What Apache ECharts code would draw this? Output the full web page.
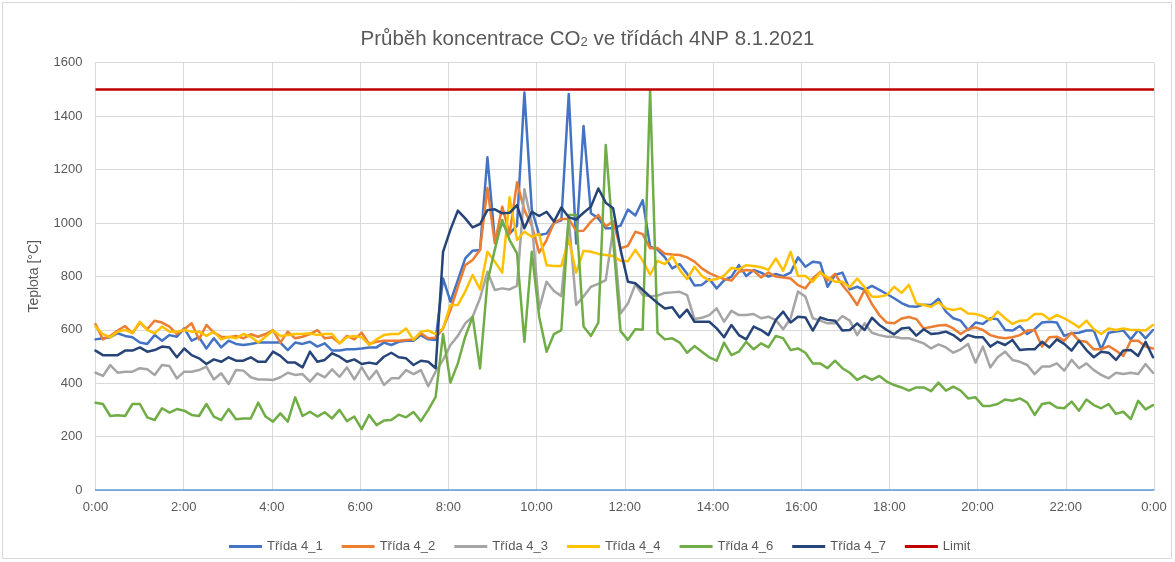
<!DOCTYPE html>
<html>
<head>
<meta charset="utf-8">
<script src="https://cdn.jsdelivr.net/npm/echarts@6/dist/echarts.min.js"></script>
<style>
  html, body { margin: 0; padding: 0; background: #ffffff; }
  #chart { width: 1175px; height: 562px; }
</style>
</head>
<body>
<div id="chart"></div>
<script>
// Sampling: one reading roughly every 10 minutes (logger interval 10 min 3.6 s), 144 readings from 0:00
const STEP_MIN = 10.06;
const DAY_MIN = 1440;
const LIMIT_PPM = 1500;

const seriesNames = ['Třída 4_1', 'Třída 4_2', 'Třída 4_3', 'Třída 4_4', 'Třída 4_6', 'Třída 4_7'];
const seriesColors = ['#4472C4', '#ED7D31', '#A5A5A5', '#FFC000', '#70AD47', '#264478'];
const limitName = 'Limit';
const limitColor = '#C00000';

const yTickValues = [0, 200, 400, 600, 800, 1000, 1200, 1400, 1600];
const xTickHours = [0, 2, 4, 6, 8, 10, 12, 14, 16, 18, 20, 22, 24];

// CO2 concentration [ppm]
const trida4_1 = [
  564, 568, 572, 587, 577, 572, 552, 547, 580, 559, 580, 574, 605, 559, 572, 530, 568, 534, 559, 547,
  543, 547, 552, 552, 552, 552, 524, 552, 547, 555, 537, 549, 522, 522, 527, 527, 530, 534, 534, 552,
  543, 555, 559, 559, 580, 564, 562, 792, 705, 786, 867, 896, 899, 1246, 936, 1000, 960, 990, 1488, 1050,
  955, 960, 1000, 1010, 1483, 923, 1363, 1036, 1017, 980, 980, 990, 1050, 1028, 1085, 911, 900, 871, 830, 846,
  810, 766, 768, 790, 755, 785, 799, 842, 801, 824, 814, 799, 809, 801, 814, 871, 836, 855, 851, 761,
  805, 814, 751, 761, 749, 764, 749, 734, 718, 700, 688, 686, 694, 693, 716, 668, 643, 634, 599, 627,
  622, 643, 639, 599, 597, 614, 584, 602, 627, 630, 627, 577, 587, 589, 597, 597, 527, 589, 593, 597,
  564, 599, 568, 599
];
const trida4_2 = [
  621, 564, 577, 597, 614, 587, 627, 602, 634, 627, 612, 584, 602, 624, 564, 618, 589, 574, 572, 577,
  568, 583, 574, 584, 599, 552, 593, 568, 574, 584, 599, 568, 572, 549, 577, 564, 589, 547, 555, 559,
  559, 559, 562, 564, 587, 568, 570, 605, 674, 761, 842, 861, 899, 1131, 924, 1061, 958, 1152, 1048, 990,
  889, 936, 1000, 1015, 1015, 970, 971, 1005, 1030, 987, 1006, 905, 914, 967, 958, 905, 906, 885, 882, 880,
  871, 855, 830, 812, 800, 790, 784, 817, 824, 821, 796, 814, 799, 796, 792, 767, 755, 792, 817, 784,
  809, 767, 734, 693, 749, 696, 655, 627, 624, 642, 648, 640, 605, 610, 616, 618, 605, 584, 602, 609,
  599, 580, 572, 568, 572, 580, 597, 599, 537, 572, 574, 559, 589, 559, 555, 527, 527, 539, 522, 502,
  559, 559, 537, 530
];
const trida4_3 = [
  439, 427, 468, 439, 443, 443, 456, 452, 431, 468, 464, 418, 443, 443, 449, 462, 414, 437, 397, 449,
  447, 422, 414, 414, 412, 422, 439, 431, 434, 406, 437, 422, 452, 424, 459, 414, 459, 414, 447, 393,
  418, 418, 449, 434, 449, 389, 443, 487, 543, 577, 624, 649, 718, 817, 749, 755, 751, 764, 1126, 1000,
  678, 780, 745, 726, 1015, 693, 725, 761, 772, 786, 975, 661, 698, 770, 730, 725, 728, 738, 740, 742,
  730, 640, 645, 655, 680, 630, 671, 655, 655, 659, 643, 649, 636, 602, 643, 743, 724, 643, 634, 624,
  624, 651, 634, 580, 624, 589, 580, 574, 574, 568, 568, 559, 549, 530, 545, 534, 514, 527, 547, 477,
  537, 459, 497, 518, 487, 480, 468, 434, 462, 462, 474, 447, 487, 456, 474, 449, 431, 418, 439, 434,
  439, 434, 472, 439
];
const trida4_4 = [
  612, 584, 572, 593, 599, 589, 630, 599, 587, 612, 593, 593, 599, 593, 593, 577, 593, 564, 574, 568,
  584, 574, 552, 574, 597, 577, 580, 584, 584, 587, 580, 584, 584, 549, 572, 577, 572, 543, 564, 580,
  584, 584, 605, 562, 593, 597, 584, 605, 693, 693, 743, 805, 751, 892, 855, 814, 1096, 936, 967, 948,
  958, 842, 839, 839, 939, 814, 896, 892, 884, 880, 876, 858, 857, 899, 859, 806, 858, 846, 876, 824,
  790, 836, 801, 785, 790, 803, 832, 826, 842, 839, 834, 824, 867, 821, 892, 801, 801, 780, 814, 796,
  780, 780, 759, 792, 759, 724, 724, 730, 761, 738, 768, 698, 693, 686, 703, 680, 674, 680, 661, 659,
  651, 636, 668, 643, 622, 634, 636, 659, 659, 639, 655, 643, 627, 609, 634, 602, 584, 605, 599, 605,
  599, 599, 597, 618
];
const trida4_6 = [
  327, 322, 277, 280, 277, 322, 322, 272, 262, 306, 290, 303, 297, 281, 277, 322, 275, 262, 303, 265,
  268, 268, 327, 275, 256, 287, 256, 347, 277, 293, 275, 291, 268, 300, 258, 275, 228, 281, 243, 260,
  262, 282, 272, 292, 258, 300, 349, 584, 402, 474, 574, 649, 455, 780, 900, 1011, 936, 886, 555, 892,
  649, 518, 584, 599, 1030, 1030, 612, 577, 627, 1292, 940, 595, 562, 602, 600, 1497, 589, 564, 568, 552,
  514, 539, 518, 497, 484, 552, 505, 518, 555, 527, 549, 534, 577, 568, 524, 530, 514, 474, 474, 456,
  484, 456, 439, 412, 427, 412, 427, 406, 393, 384, 372, 384, 384, 370, 402, 372, 387, 372, 343, 347,
  315, 315, 322, 339, 334, 343, 327, 281, 322, 327, 309, 306, 331, 297, 339, 318, 306, 322, 285, 293,
  265, 334, 302, 318
];
const trida4_7 = [
  522, 505, 505, 505, 522, 522, 534, 518, 524, 537, 534, 497, 530, 505, 493, 472, 489, 480, 497, 484,
  484, 497, 480, 480, 518, 502, 477, 477, 459, 518, 480, 487, 512, 499, 480, 489, 472, 477, 472, 499,
  514, 497, 493, 468, 484, 480, 456, 892, 975, 1046, 1017, 983, 996, 1048, 1051, 1036, 1038, 1067, 980, 1042,
  1026, 1042, 1005, 1058, 1021, 1013, 1038, 1061, 1129, 1076, 1055, 900, 780, 774, 749, 724, 700, 680, 684, 646,
  675, 630, 630, 630, 605, 572, 618, 580, 564, 612, 599, 580, 637, 668, 627, 649, 646, 597, 646, 637,
  634, 597, 599, 624, 599, 645, 618, 599, 583, 605, 608, 578, 602, 584, 587, 593, 580, 559, 580, 572,
  572, 537, 555, 543, 562, 524, 527, 527, 555, 534, 564, 547, 522, 559, 524, 497, 518, 514, 487, 522,
  524, 502, 555, 497
];

const seriesValues = [trida4_1, trida4_2, trida4_3, trida4_4, trida4_6, trida4_7];

const FONT = '"Liberation Sans", Arial, sans-serif';
const TEXT = '#595959';
const GRID_LINE = '#D9D9D9';

const lineSeries = seriesNames.map((name, k) => ({
  name: name,
  type: 'line',
  symbol: 'none',
  showSymbol: false,
  color: seriesColors[k],
  lineStyle: { width: 2.5, color: seriesColors[k], join: 'round', cap: 'round' },
  data: seriesValues[k].map((v, i) => [i * STEP_MIN, v])
}));

lineSeries.push({
  name: limitName,
  type: 'line',
  symbol: 'none',
  showSymbol: false,
  color: limitColor,
  lineStyle: { width: 2.5, color: limitColor },
  data: [[0, LIMIT_PPM], [DAY_MIN, LIMIT_PPM]]
});

const chart = echarts.init(document.getElementById('chart'), null, { renderer: 'canvas' });

chart.setOption({
  animation: false,
  backgroundColor: '#ffffff',
  textStyle: { fontFamily: FONT },
  title: {
    text: '{a|Průběh koncentrace CO}{s|2}{a| ve třídách 4NP 8.1.2021}',
    left: 'center',
    top: 24,
    textStyle: {
      fontWeight: 'normal',
      rich: {
        a: { fontFamily: FONT, fontSize: 20.5, fontWeight: 'normal', color: TEXT },
        s: { fontFamily: FONT, fontSize: 13, fontWeight: 'normal', color: TEXT, verticalAlign: 'bottom', padding: [0, 0, 1, 0] }
      }
    }
  },
  graphic: [{
    type: 'rect',
    silent: true,
    z: -10,
    shape: { x: 2.5, y: 2.5, width: 1169, height: 556 },
    style: { fill: 'none', stroke: GRID_LINE, lineWidth: 1 }
  }],
  legend: {
    data: seriesNames.concat([limitName]),
    left: 224,
    top: 535,
    icon: 'rect',
    itemWidth: 33,
    itemHeight: 3,
    itemGap: 19,
    textStyle: { fontFamily: FONT, fontSize: 13, color: TEXT }
  },
  grid: { left: 95.5, right: 21, top: 62.7, bottom: 72, containLabel: false },
  xAxis: {
    type: 'value',
    min: xTickHours[0] * 60,
    max: xTickHours[xTickHours.length - 1] * 60,
    interval: 120,
    axisLine: { show: true, lineStyle: { color: '#5B9BD5', width: 1.5 } },
    axisTick: { show: false },
    axisLabel: {
      color: TEXT, fontFamily: FONT, fontSize: 13, margin: 11,
      formatter: v => (Math.round(v / 60) % 24) + ':00'
    },
    splitLine: { show: true, lineStyle: { color: GRID_LINE, width: 1 } }
  },
  yAxis: {
    type: 'value',
    min: yTickValues[0],
    max: yTickValues[yTickValues.length - 1],
    interval: yTickValues[1] - yTickValues[0],
    name: 'Teplota [°C]',
    nameLocation: 'middle',
    nameGap: 54,
    nameTextStyle: { color: TEXT, fontFamily: FONT, fontSize: 14 },
    axisLine: { show: false },
    axisTick: { show: false },
    axisLabel: {
      color: TEXT, fontFamily: FONT, fontSize: 13, margin: 13,
      formatter: v => String(v)
    },
    splitLine: { show: true, lineStyle: { color: GRID_LINE, width: 1 } }
  },
  series: lineSeries
});
</script>
</body>
</html>
